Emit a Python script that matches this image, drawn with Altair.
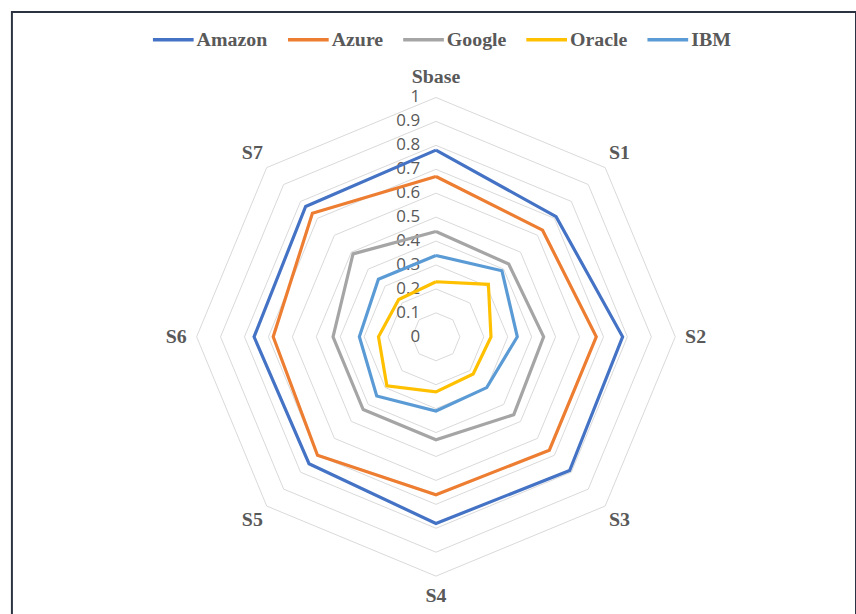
import math
import altair as alt
import pandas as pd

# ---- data ----
categories = ["Sbase", "S1", "S2", "S3", "S4", "S5", "S6", "S7"]
series = ["Amazon", "Azure", "Google", "Oracle", "IBM"]
amazon = [0.78, 0.71, 0.78, 0.79, 0.78, 0.75, 0.76, 0.77]
azure = [0.67, 0.63, 0.67, 0.67, 0.66, 0.70, 0.68, 0.73]
google = [0.44, 0.43, 0.45, 0.46, 0.43, 0.43, 0.43, 0.49]
oracle = [0.23, 0.31, 0.23, 0.22, 0.23, 0.29, 0.24, 0.22]
ibm = [0.34, 0.39, 0.34, 0.30, 0.31, 0.35, 0.32, 0.34]
levels = [0, 0.1, 0.2, 0.3, 0.4, 0.5, 0.6, 0.7, 0.8, 0.9, 1.0]
tick_labels = ["0", "0.1", "0.2", "0.3", "0.4", "0.5", "0.6", "0.7", "0.8", "0.9", "1"]
colors = ["#4472C4", "#ED7D31", "#A5A5A5", "#FFC000", "#5B9BD5"]

values = {"Amazon": amazon, "Azure": azure, "Google": google, "Oracle": oracle, "IBM": ibm}
n = len(categories)


def ang(k):
    return 2 * math.pi * k / n


# series polygons (closed)
rows = []
for s in series:
    vals = values[s]
    for i in range(n + 1):
        k = i % n
        v = vals[k]
        rows.append({"series": s, "order": i, "category": categories[k], "value": v,
                     "x": v * math.sin(ang(k)), "y": v * math.cos(ang(k))})
df = pd.DataFrame(rows)

# grid octagons
grows = []
for lv in levels[1:]:
    for i in range(n + 1):
        k = i % n
        grows.append({"level": lv, "order": i, "x": lv * math.sin(ang(k)), "y": lv * math.cos(ang(k))})
gdf = pd.DataFrame(grows)

# tick labels
tdf = pd.DataFrame({"label": tick_labels, "y": levels, "x": [0.0] * len(levels)})

# category labels
LR = 1.085
cdf = pd.DataFrame({"label": categories,
                    "x": [LR * math.sin(ang(k)) for k in range(n)],
                    "y": [LR * math.cos(ang(k)) for k in range(n)]})

W, H = 850, 610
CX, CY, R = 427, 327, 241
xs = alt.Scale(domain=[-CX / R, (W - CX) / R], nice=False, zero=False)
ys = alt.Scale(domain=[-(H - CY) / R, CY / R], nice=False, zero=False)

X = alt.X("x:Q", scale=xs, axis=None)
Y = alt.Y("y:Q", scale=ys, axis=None)

grid = alt.Chart(gdf).mark_line(color="#D9D9D9", strokeWidth=1).encode(
    x=X, y=Y, detail="level:N", order="order:Q")

ticks = alt.Chart(tdf).mark_text(align="right", baseline="middle", dx=-16,
                                 font="Open Sans", fontSize=17, color="#595959").encode(
    x=X, y=Y, text="label:N")

lines = alt.Chart(df).mark_line(strokeWidth=3.2).encode(
    x=X, y=Y, order="order:Q",
    color=alt.Color("series:N", sort=series,
                    scale=alt.Scale(domain=series, range=colors),
                    legend=alt.Legend(title=None, orient="none", direction="horizontal",
                                      legendX=140, legendY=5,
                                      symbolType="stroke", symbolSize=1681,
                                      symbolStrokeWidth=3.5,
                                      labelFont="Liberation Serif", labelFontWeight="bold",
                                      labelFontSize=20, labelColor="#595959",
                                      labelOffset=1, columnPadding=13)))

cats = alt.Chart(cdf).mark_text(align="center", baseline="middle",
                                font="Liberation Serif", fontWeight="bold", fontSize=20,
                                color="#595959").encode(x=X, y=Y, text="label:N")

chart = alt.layer(grid, ticks, lines, cats).properties(
    width=W, height=H,
    autosize=alt.AutoSizeParams(type="none"),
    padding={"left": 12, "top": 10, "right": 0, "bottom": 0},
    background="white",
).configure_view(stroke="#2B3340", strokeWidth=2)

chart.save("out.html", embed_options={"renderer": "svg", "actions": False})
